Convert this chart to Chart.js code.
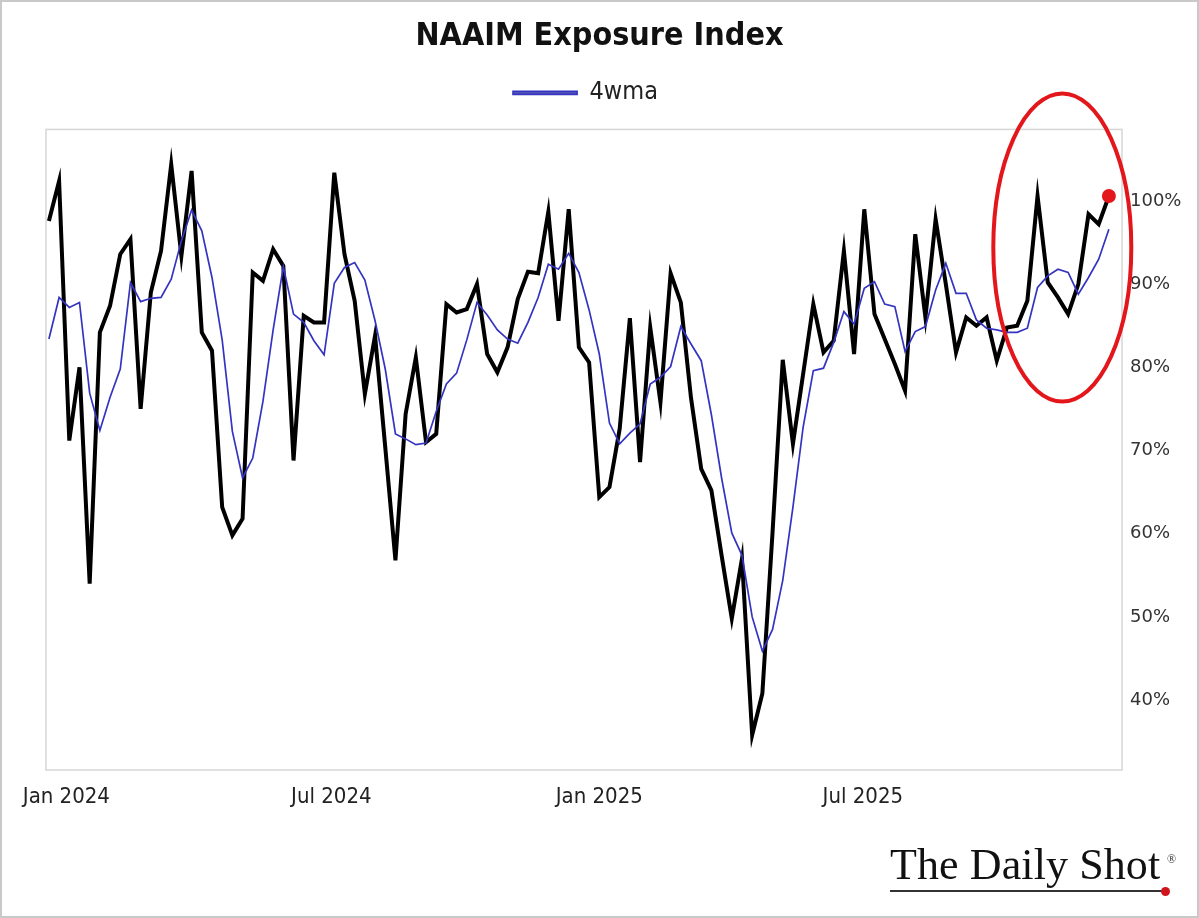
<!DOCTYPE html>
<html>
<head>
<meta charset="utf-8">
<script src="https://cdn.jsdelivr.net/npm/chart.js@4.4.1/dist/chart.umd.min.js"></script>
<style>
  html, body { margin: 0; padding: 0; background: #fff; }
  #wrap { position: relative; width: 1199px; height: 918px; overflow: hidden; }
  #frame { position: absolute; left: 0; top: 0; width: 1199px; height: 918px; box-sizing: border-box; border: 2px solid #c9c9c9; pointer-events: none; }
  #logo { position: absolute; left: 890px; top: 843px; width: 300px; height: 60px; }
  #logo .txt { position: absolute; left: 0; top: 0; font-family: "Liberation Serif", "DejaVu Serif", serif; font-size: 44px; line-height: 44px; color: #111; white-space: nowrap; letter-spacing: 0.1px; }
  #logo .reg { position: absolute; left: 277px; top: 10px; font-family: "Liberation Serif", serif; font-size: 12px; line-height: 12px; color: #333; }
  #logo .l1 { position: absolute; left: 0px; top: 47px; width: 274px; height: 0; border-top: 2px solid #333; }
  #logo .dot { position: absolute; left: 271px; top: 44px; width: 9px; height: 9px; border-radius: 50%; background: #d0141b; }
</style>
</head>
<body>
<div id="wrap">
  <canvas id="c" width="1199" height="918"></canvas>
  <div id="logo"><div class="txt">The Daily Shot</div><div class="reg">®</div><div class="l1"></div><div class="dot"></div></div>
  <div id="frame"></div>
</div>
<script>
// Weekly survey dates (Wednesdays)
const weeks = [
  '2023-12-20','2023-12-27',
  '2024-01-03','2024-01-10','2024-01-17','2024-01-24','2024-01-31',
  '2024-02-07','2024-02-14','2024-02-21','2024-02-28',
  '2024-03-06','2024-03-13','2024-03-20','2024-03-27',
  '2024-04-03','2024-04-10','2024-04-17','2024-04-24',
  '2024-05-01','2024-05-08','2024-05-15','2024-05-22','2024-05-29',
  '2024-06-05','2024-06-12','2024-06-19','2024-06-26',
  '2024-07-03','2024-07-10','2024-07-17','2024-07-24','2024-07-31',
  '2024-08-07','2024-08-14','2024-08-21','2024-08-28',
  '2024-09-04','2024-09-11','2024-09-18','2024-09-25',
  '2024-10-02','2024-10-09','2024-10-16','2024-10-23','2024-10-30',
  '2024-11-06','2024-11-13','2024-11-20','2024-11-27',
  '2024-12-04','2024-12-11','2024-12-18','2024-12-25',
  '2025-01-01','2025-01-08','2025-01-15','2025-01-22','2025-01-29',
  '2025-02-05','2025-02-12','2025-02-19','2025-02-26',
  '2025-03-05','2025-03-12','2025-03-19','2025-03-26',
  '2025-04-02','2025-04-09','2025-04-16','2025-04-23','2025-04-30',
  '2025-05-07','2025-05-14','2025-05-21','2025-05-28',
  '2025-06-04','2025-06-11','2025-06-18','2025-06-25',
  '2025-07-02','2025-07-09','2025-07-16','2025-07-23','2025-07-30',
  '2025-08-06','2025-08-13','2025-08-20','2025-08-27',
  '2025-09-03','2025-09-10','2025-09-17','2025-09-24',
  '2025-10-01','2025-10-08','2025-10-15','2025-10-22','2025-10-29',
  '2025-11-05','2025-11-12','2025-11-19','2025-11-26',
  '2025-12-03','2025-12-10','2025-12-17'
];

// NAAIM Exposure Index (%)
const naaim = [
  97.6, 102.4, 71.2, 80.0, 54.0, 84.2, 87.4, 93.6, 95.4, 75.0,
  89.0, 94.0, 104.4, 93.4, 103.6, 84.2, 82.0, 63.2, 59.8, 61.8,
  91.4, 90.4, 94.2, 92.2, 68.8, 86.2, 85.4, 85.4, 103.4, 93.6,
  88.0, 76.8, 83.8, 70.4, 56.8, 74.4, 81.2, 71.0, 72.0, 87.6,
  86.6, 87.0, 90.0, 81.6, 79.4, 82.4, 88.2, 91.5, 91.3, 98.7,
  85.6, 99.0, 82.4, 80.6, 64.4, 65.6, 72.6, 85.9, 68.6, 84.8,
  75.8, 91.3, 87.8, 76.3, 67.8, 65.2, 57.4, 49.8, 57.0, 35.8,
  40.8, 60.2, 80.9, 70.8, 79.2, 87.6, 81.8, 83.2, 94.0, 81.6,
  99.0, 86.4, 83.4, 80.4, 77.2, 96.0, 86.0, 97.8, 90.0, 81.8,
  86.0, 85.0, 86.0, 80.8, 84.8, 85.0, 88.0, 100.6, 90.2, 88.4,
  86.4, 90.0, 98.4, 97.2, 100.6
];

// 4-week moving average (%)
const wma4 = [
  83.4, 88.4, 87.2, 87.8, 76.9, 72.4, 76.4, 79.8, 90.2, 87.9,
  88.3, 88.4, 90.6, 95.2, 98.9, 96.4, 90.8, 83.3, 72.3, 66.7,
  69.1, 75.9, 84.5, 92.1, 86.4, 85.4, 83.2, 81.5, 90.1, 92.0,
  92.6, 90.5, 85.6, 79.8, 72.0, 71.4, 70.7, 70.9, 74.7, 78.0,
  79.3, 83.3, 87.8, 86.3, 84.5, 83.4, 82.9, 85.4, 88.4, 92.4,
  91.8, 93.7, 91.4, 86.9, 81.6, 73.3, 70.8, 72.1, 73.2, 78.0,
  78.8, 80.1, 84.9, 82.8, 80.8, 74.3, 66.7, 60.1, 57.4, 50.0,
  45.9, 48.5, 54.4, 63.2, 72.8, 79.6, 79.9, 83.0, 86.7, 85.2,
  89.5, 90.3, 87.6, 87.3, 81.9, 84.3, 84.9, 89.3, 92.5, 88.9,
  88.9, 85.7, 84.7, 84.5, 84.2, 84.2, 84.7, 89.6, 91.0, 91.8,
  91.4, 88.8, 90.8, 93.0, 96.6
];

const xTickDates = ['2024-01-01', '2024-07-01', '2025-01-01', '2025-07-01'];
const xTickLabels = ['Jan 2024', 'Jul 2024', 'Jan 2025', 'Jul 2025'];
const yTicks = [40, 50, 60, 70, 80, 90, 100];

const DAY = 86400000;
const t0 = Date.parse(weeks[0]);
const dayOf = d => (Date.parse(d) - t0) / DAY;
const lastDay = dayOf(weeks[weeks.length - 1]);

const naaimPts = weeks.map((d, i) => ({ x: dayOf(d), y: naaim[i] }));
const wmaPts = weeks.map((d, i) => ({ x: dayOf(d), y: wma4[i] }));
const dotRadius = weeks.map((d, i) => (i === weeks.length - 1 ? 7 : 0));

const RED = '#e3161c';
const CONDENSED = '"Liberation Sans Narrow", "DejaVu Sans Condensed", "Open Sans", sans-serif';

// Adds space below the legend row so the plot frame starts lower,
// and nudges the legend a little to the left as in the original
const legendGapPlugin = {
  id: 'legendGap',
  beforeLayout(chart) {
    const lg = chart.legend;
    if (lg && !lg.__gap) {
      const fit = lg.fit;
      lg.fit = function () { fit.call(this); this.height += 14; };
      const draw = lg.draw;
      lg.draw = function () {
        const ctx = this.ctx;
        ctx.save();
        ctx.translate(-14, 0);
        draw.call(this);
        ctx.restore();
      };
      lg.__gap = true;
    }
  }
};

const framePlugin = {
  id: 'frame',
  beforeDatasetsDraw(chart) {
    const a = chart.chartArea, ctx = chart.ctx;
    ctx.save();
    ctx.strokeStyle = '#d6d6d6';
    ctx.lineWidth = 1.5;
    ctx.strokeRect(a.left, a.top, a.right - a.left, a.bottom - a.top);
    ctx.restore();
  }
};

const ellipsePlugin = {
  id: 'ellipse',
  afterDatasetsDraw(chart) {
    const xs = chart.scales.x, ys = chart.scales.y, ctx = chart.ctx;
    const cx = xs.getPixelForValue(dayOf('2025-11-12') + 3);
    const cy = ys.getPixelForValue(94.4);
    ctx.save();
    ctx.strokeStyle = RED;
    ctx.lineWidth = 4;
    ctx.beginPath();
    ctx.ellipse(cx, cy, 69, 154, 0, 0, Math.PI * 2);
    ctx.stroke();
    ctx.restore();
  }
};

new Chart(document.getElementById('c'), {
  type: 'line',
  data: {
    datasets: [
      {
        label: 'NAAIM Exposure Index',
        data: naaimPts,
        xAxisID: 'x',
        yAxisID: 'y',
        borderColor: '#000000',
        backgroundColor: '#000000',
        borderWidth: 4,
        pointRadius: dotRadius,
        pointBackgroundColor: RED,
        pointBorderWidth: 0,
        pointHoverRadius: dotRadius,
        tension: 0,
        order: 2
      },
      {
        label: '4wma',
        data: wmaPts,
        xAxisID: 'x',
        yAxisID: 'y',
        borderColor: '#3434c0',
        backgroundColor: '#5a5ab8',
        borderWidth: 1.7,
        pointRadius: 0,
        tension: 0,
        order: 1
      }
    ]
  },
  options: {
    responsive: false,
    animation: false,
    devicePixelRatio: 1,
    layout: { padding: 0 },
    plugins: {
      title: {
        display: true,
        text: 'NAAIM Exposure Index',
        color: '#111',
        font: { family: CONDENSED, size: 32, weight: 'bold' },
        padding: { top: 17, bottom: 1 }
      },
      legend: {
        display: true,
        labels: {
          filter: item => item.text === '4wma',
          boxWidth: 64,
          boxHeight: 3,
          padding: 24,
          color: '#222',
          font: { family: CONDENSED, size: 25 }
        }
      },
      tooltip: { enabled: false }
    },
    scales: {
      x: {
        type: 'linear',
        min: -2,
        max: lastDay + 9,
        grid: { display: false, drawTicks: false },
        border: { display: false },
        afterBuildTicks: s => { s.ticks = xTickDates.map(d => ({ value: dayOf(d) })); },
        afterFit: s => { s.height = 148; },
        ticks: {
          autoSkip: false,
          maxRotation: 0,
          padding: 14,
          color: '#222',
          font: { family: CONDENSED, size: 22 },
          callback: (v) => {
            const i = xTickDates.findIndex(d => Math.abs(dayOf(d) - v) < 0.01);
            return i >= 0 ? xTickLabels[i] : '';
          }
        }
      },
      y: {
        type: 'linear',
        position: 'right',
        min: 31.6,
        max: 108.6,
        grid: { display: false, drawTicks: false },
        border: { display: false },
        afterBuildTicks: s => { s.ticks = yTicks.map(v => ({ value: v })); },
        afterFit: s => { s.width = 77; },
        ticks: {
          padding: 8,
          color: '#333',
          font: { family: '"DejaVu Sans", "Open Sans", sans-serif', size: 18 },
          callback: v => v + '%'
        }
      },
      yL: {
        type: 'linear',
        axis: 'y',
        position: 'left',
        min: 31.6,
        max: 108.6,
        grid: { display: false, drawTicks: false },
        border: { display: false },
        ticks: { display: false },
        afterFit: s => { s.width = 46; }
      }
    }
  },
  plugins: [legendGapPlugin, framePlugin, ellipsePlugin]
});
</script>
</body>
</html>
